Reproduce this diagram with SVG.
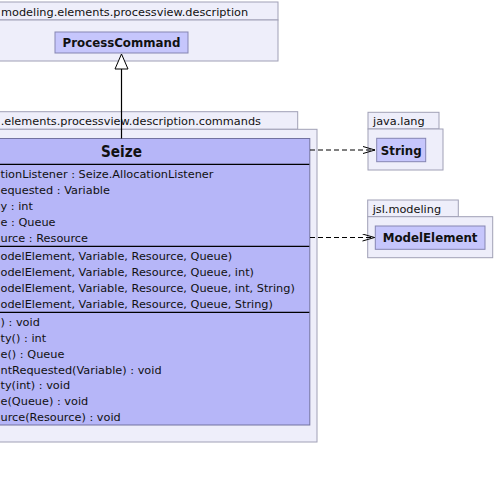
<svg xmlns="http://www.w3.org/2000/svg" width="494" height="480" viewBox="0 0 494 480">
<style>
.pkg{fill:#eeeefa;stroke:#a0a0b6;stroke-width:1}
.cls{fill:#c6c6fc;stroke:#8585b2;stroke-width:1}
.big{fill:#b6b6f8;stroke:#7272a0;stroke-width:1}
.sep{stroke:#000;stroke-width:1.2}
.t{font-family:"DejaVu Sans",Verdana,sans-serif;font-size:11.3px;fill:#111}
.b{font-family:"DejaVu Sans",Verdana,sans-serif;font-size:11.8px;font-weight:bold;fill:#111;text-anchor:middle}
.dep{stroke:#000;stroke-width:1;stroke-dasharray:5,3;fill:none}
</style>
<defs>
<marker id="open" markerWidth="14" markerHeight="10" refX="13" refY="4" orient="auto" markerUnits="userSpaceOnUse">
<path d="M1,0.5 L13,4 L1,7.5" fill="none" stroke="#000" stroke-width="1"/>
</marker>
</defs>
<g id="pkg-description">
<rect class="pkg" x="-20" y="2" width="298" height="18"/>
<rect class="pkg" x="-20" y="20" width="298" height="41"/>
<text class="t" x="1" y="16">modeling.elements.processview.description</text>
</g>
<g id="ProcessCommand">
<rect class="cls" x="55" y="32" width="133" height="21"/>
<text class="b" x="121.5" y="46.7">ProcessCommand</text>
</g>
<g id="pkg-commands">
<rect class="pkg" x="-20" y="111.7" width="317.7" height="17.6"/>
<rect class="pkg" x="-20" y="129.3" width="337" height="312.7"/>
<text class="t" x="0.7" y="125">.elements.processview.description.commands</text>
</g>
<g id="Seize">
<rect class="big" x="-70" y="138.5" width="379.8" height="286.5"/>
<text x="121.5" y="157.3" font-family="DejaVu Sans,Verdana,sans-serif" font-size="15.5" font-weight="bold" fill="#111" text-anchor="middle" textLength="41" lengthAdjust="spacingAndGlyphs">Seize</text>
<line class="sep" x1="-70" y1="164.3" x2="309.3" y2="164.3"/>
<text class="t" x="0.5" y="177.5">tionListener : Seize.AllocationListener</text>
<text class="t" x="0.5" y="194">equested : Variable</text>
<text class="t" x="0.5" y="210">y : int</text>
<text class="t" x="0.5" y="226">e : Queue</text>
<text class="t" x="0.5" y="242">urce : Resource</text>
<line class="sep" x1="-70" y1="246.3" x2="309.3" y2="246.3"/>
<text class="t" x="0.5" y="260">odelElement, Variable, Resource, Queue)</text>
<text class="t" x="0.5" y="276">odelElement, Variable, Resource, Queue, int)</text>
<text class="t" x="0.5" y="291.5">odelElement, Variable, Resource, Queue, int, String)</text>
<text class="t" x="0.5" y="307.5">odelElement, Variable, Resource, Queue, String)</text>
<line class="sep" x1="-70" y1="312.3" x2="309.3" y2="312.3"/>
<text class="t" x="0.5" y="326">) : void</text>
<text class="t" x="0.5" y="342">ty() : int</text>
<text class="t" x="0.5" y="357.5">e() : Queue</text>
<text class="t" x="0.5" y="373.5">ntRequested(Variable) : void</text>
<text class="t" x="0.5" y="389">ty(int) : void</text>
<text class="t" x="0.5" y="405">e(Queue) : void</text>
<text class="t" x="0.5" y="421">urce(Resource) : void</text>
</g>
<g id="pkg-java-lang">
<rect class="pkg" x="368" y="112.3" width="71" height="16.7"/>
<rect class="pkg" x="368" y="129" width="75" height="41"/>
<text class="t" x="373" y="125">java.lang</text>
</g>
<g id="String">
<rect class="cls" x="376.7" y="138.3" width="49" height="23.4"/>
<text class="b" x="401.2" y="154.5">String</text>
</g>
<g id="pkg-jsl-modeling">
<rect class="pkg" x="367.7" y="200" width="90.6" height="16.7"/>
<rect class="pkg" x="367.7" y="216.7" width="125" height="41"/>
<text class="t" x="372.7" y="213">jsl.modeling</text>
</g>
<g id="ModelElement">
<rect class="cls" x="375.3" y="226" width="109.7" height="23.3"/>
<text class="b" x="430.1" y="242">ModelElement</text>
</g>
<g id="connectors">
<line x1="121.5" y1="69" x2="121.5" y2="138.5" stroke="#000" stroke-width="1.2"/>
<path d="M121.5,54 L115,69 L128,69 Z" fill="#fff" stroke="#000" stroke-width="1"/>
<line class="dep" x1="310" y1="150" x2="375" y2="150" marker-end="url(#open)"/>
<line class="dep" x1="310" y1="237.5" x2="374.5" y2="237.5" marker-end="url(#open)"/>
</g>
</svg>
